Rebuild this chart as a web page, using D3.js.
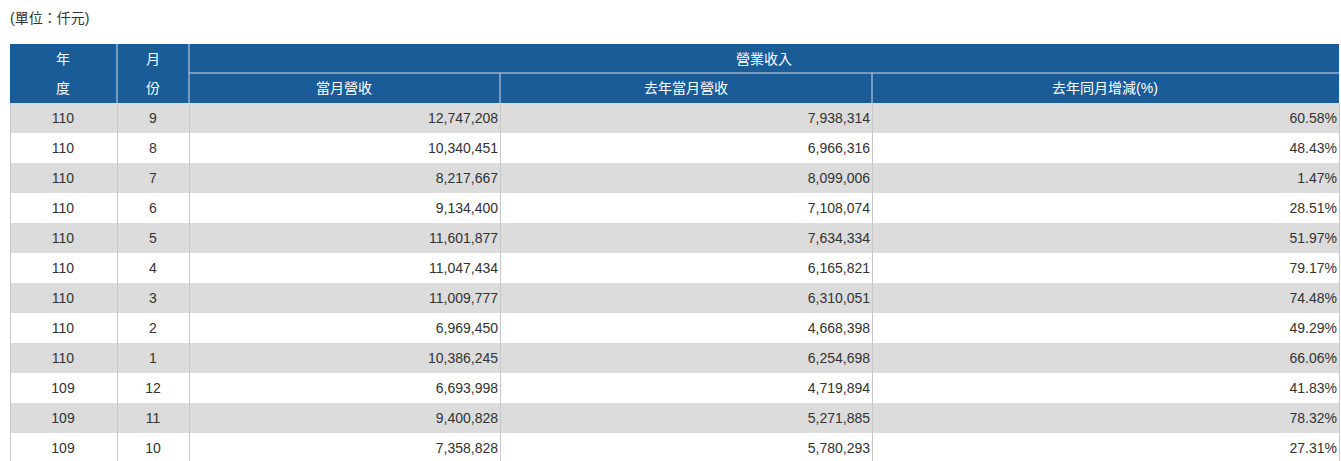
<!DOCTYPE html><html><head><meta charset="utf-8">
<script src="https://cdn.jsdelivr.net/npm/d3@7"></script>
<style>body{margin:0;background:#fff}</style></head><body>
<svg id="c" width="1341" height="461"></svg>
<script>
const years=["110","110","110","110","110","110","110","110","110","109","109","109"];
const months=["9","8","7","6","5","4","3","2","1","12","11","10"];
const revenue=[12747208,10340451,8217667,9134400,11601877,11047434,11009777,6969450,10386245,6693998,9400828,7358828];
const lastYear=[7938314,6966316,8099006,7108074,7634334,6165821,6310051,4668398,6254698,4719894,5271885,5780293];
const growth=[60.58,48.43,1.47,28.51,51.97,79.17,74.48,49.29,66.06,41.83,78.32,27.31];
const colEdges=[10,117,189,500,872,1339];
const svg=d3.select("#c");
const font="'Liberation Sans',Arial,'Noto Sans CJK TC',sans-serif";
svg.append("text").attr("x",10).attr("y",23).attr("font-family",font).attr("font-size",14).attr("fill","#333").text("(單位：仟元)");
const blue="#1a5c98", line="#c8c8c8";
const y=d3.scaleBand().domain(d3.range(years.length)).range([103,103+30*years.length]);
// header
svg.append("rect").attr("x",10).attr("y",44).attr("width",1329).attr("height",59).attr("fill",blue);
const hl=[[117,44,117,103],[189,44,189,103],[189,73,1339,73],[500,73,500,103],[872,73,872,103]];
svg.selectAll(".hl").data(hl).join("line").attr("x1",d=>d[0]).attr("y1",d=>d[1]).attr("x2",d=>d[2]).attr("y2",d=>d[3]).attr("stroke","#d0dbe8").attr("stroke-width",1);
const ht=[["年",63,59],["度",63,88],["月",153,59],["份",153,88],["營業收入",764,59],["當月營收",344,88],["去年當月營收",686,88],["去年同月增減(%)",1105,88]];
svg.selectAll(".ht").data(ht).join("text").attr("x",d=>d[1]).attr("y",d=>d[2]).attr("dy","0.35em").attr("text-anchor","middle").attr("font-family",font).attr("font-size",14).attr("fill","#fff").text(d=>d[0]);
// rows
const fmt=d3.format(",");
const rows=svg.selectAll(".r").data(years).join("g").attr("transform",(d,i)=>`translate(0,${y(i)})`);
rows.append("rect").attr("x",10).attr("width",1329).attr("height",30).attr("fill",(d,i)=>i%2?"#fff":"#dcdcdc");
rows.append("line").attr("x1",10).attr("x2",1339).attr("y1",30.5).attr("y2",30.5).attr("stroke",line);
colEdges.forEach(x=>rows.append("line").attr("x1",x+.5).attr("x2",x+.5).attr("y1",0).attr("y2",30).attr("stroke",line));
const cells=(d,i)=>[[years[i],63,"middle"],[months[i],153,"middle"],[fmt(revenue[i]),498,"end"],[fmt(lastYear[i]),870,"end"],[growth[i].toFixed(2)+"%",1337,"end"]];
rows.each(function(d,i){d3.select(this).selectAll("text").data(cells(d,i)).join("text").attr("x",c=>c[1]).attr("y",15).attr("dy","0.35em").attr("text-anchor",c=>c[2]).attr("font-family",font).attr("font-size",14).attr("fill","#333").text(c=>c[0]);});
</script></body></html>
